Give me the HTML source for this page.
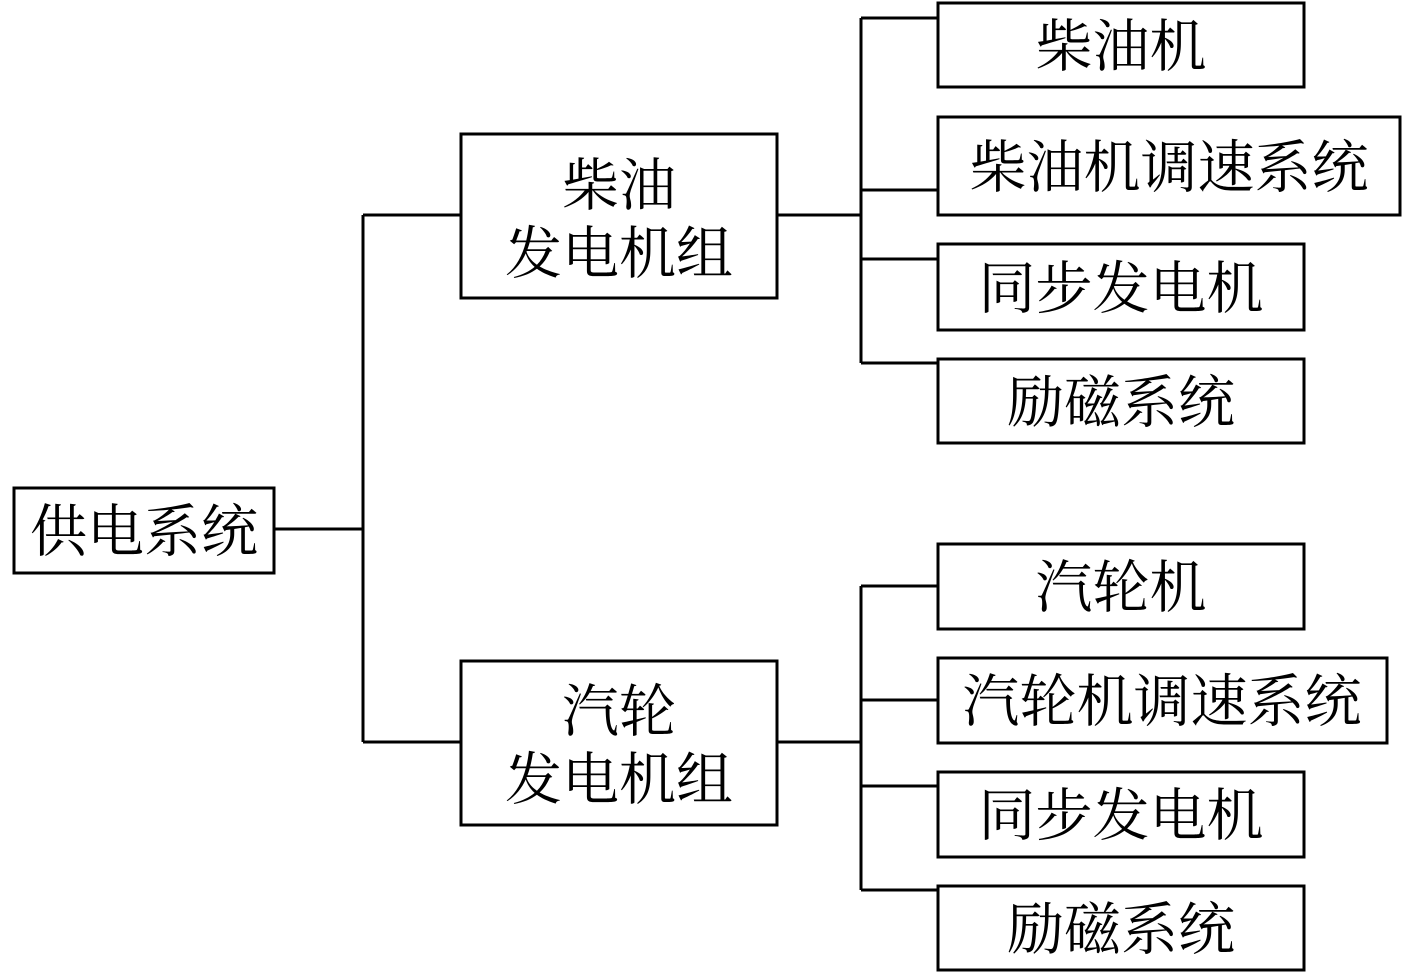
<!DOCTYPE html>
<html><head><meta charset="utf-8"><style>html,body{margin:0;padding:0;background:#fff}</style></head>
<body>
<svg width="1417" height="973" xmlns="http://www.w3.org/2000/svg" style="display:block">
<g fill="none" stroke="#000" stroke-width="3">
<rect x="14" y="488" width="260" height="85"/>
<rect x="461" y="134" width="316" height="164"/>
<rect x="461" y="661" width="316" height="164"/>
<rect x="938" y="3" width="366" height="84"/>
<rect x="938" y="117" width="462" height="98"/>
<rect x="938" y="244" width="366" height="86"/>
<rect x="938" y="359" width="366" height="84"/>
<rect x="938" y="544" width="366" height="85"/>
<rect x="938" y="658" width="449" height="85"/>
<rect x="938" y="772" width="366" height="85"/>
<rect x="938" y="886" width="366" height="84"/>
<path d="M274 529H363M363 215V742M363 215H461M363 742H461"/>
<path d="M777 215H861M861 18V363M861 18H938M861 190H938M861 259H938M861 363H938"/>
<path d="M777 742H861M861 586V890M861 586H938M861 700H938M861 786H938M861 890H938"/>
</g>
<g font-family="'Liberation Serif','Noto Serif CJK SC',serif" font-size="57" text-anchor="middle" fill="#000">
<text x="144" y="551">供电系统</text>
<text x="619" y="205">柴油</text>
<text x="619" y="273">发电机组</text>
<text x="619" y="731">汽轮</text>
<text x="619" y="799">发电机组</text>
<text x="1121" y="66">柴油机</text>
<text x="1169" y="187">柴油机调速系统</text>
<text x="1121" y="308">同步发电机</text>
<text x="1121" y="422">励磁系统</text>
<text x="1121" y="607">汽轮机</text>
<text x="1162" y="721">汽轮机调速系统</text>
<text x="1121" y="835">同步发电机</text>
<text x="1121" y="949">励磁系统</text>
</g>
</svg>
</body></html>
